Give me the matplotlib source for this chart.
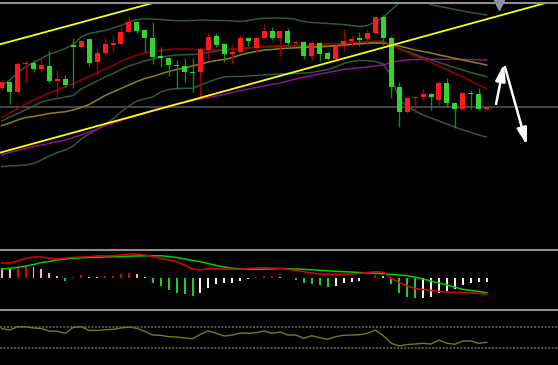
"""
Candlestick chart with Bollinger bands, moving averages, MACD and RSI panels
(dark trading-terminal style).  Saves out.png (558x365).
"""

import matplotlib
matplotlib.use('Agg')
import matplotlib.pyplot as plt
import numpy as np
from matplotlib.lines import Line2D

# ---------------------------------------------------------------------------
# Data (one entry per bar)
# ---------------------------------------------------------------------------
OPEN = [21.20, 21.83, 20.83, 23.60, 23.73, 23.07, 23.43, 21.93, 22.07, 25.50,
        25.33, 26.07, 23.83, 24.67, 25.53, 25.57, 26.80, 27.83, 27.00, 26.17,
        24.37, 24.23, 23.50, 23.40, 22.83, 22.77, 25.00, 26.40, 25.57, 24.57,
        24.83, 26.17, 25.23, 26.17, 26.93, 26.17, 26.93, 25.67, 25.83, 24.40,
        25.67, 24.67, 24.07, 25.40, 25.90, 26.17, 26.07, 26.67, 28.27, 26.17,
        21.27, 18.83, 20.17, 20.33, 20.60, 20.00, 21.67, 19.67, 19.10, 20.73,
        20.60, 19.10]
HIGH = [22.00, 21.93, 23.83, 24.00, 24.00, 24.27, 24.93, 23.00, 22.50, 26.20,
        26.00, 26.15, 25.20, 26.33, 26.40, 27.50, 28.30, 27.90, 27.07, 27.83,
        25.27, 24.33, 24.00, 24.17, 24.17, 25.33, 26.73, 26.67, 25.67, 25.40,
        26.50, 26.25, 26.40, 27.67, 27.27, 27.00, 27.17, 25.93, 25.93, 25.93,
        25.83, 24.93, 25.60, 27.07, 26.50, 26.83, 27.07, 28.33, 28.50, 26.40,
        21.83, 20.30, 20.40, 21.07, 20.73, 21.93, 22.23, 19.83, 20.80, 21.00,
        21.17, 19.40]
LOW = [21.00, 19.60, 20.70, 21.85, 22.83, 22.83, 21.73, 20.07, 21.27, 21.20,
       25.25, 23.40, 22.40, 24.60, 24.77, 25.50, 26.70, 26.60, 24.83, 23.60,
       23.33, 22.40, 21.10, 21.83, 20.83, 20.27, 24.07, 25.27, 23.83, 23.60,
       24.80, 25.40, 24.83, 26.07, 26.00, 24.40, 25.50, 25.57, 24.07, 24.00,
       23.93, 24.00, 24.00, 24.93, 25.40, 25.40, 25.50, 26.60, 25.50, 20.17,
       17.35, 18.75, 18.67, 20.00, 19.00, 19.50, 19.33, 17.17, 19.05, 19.10,
       19.00, 19.05]
CLOSE = [21.80, 20.83, 23.60, 23.73, 23.07, 23.50, 21.93, 22.07, 21.50, 25.33,
         25.93, 23.73, 24.73, 25.60, 25.67, 26.83, 27.83, 26.93, 26.17, 24.33,
         24.23, 23.50, 23.40, 22.77, 22.70, 25.07, 26.33, 25.50, 24.57, 24.83,
         26.17, 25.90, 26.17, 26.93, 26.17, 26.93, 25.67, 25.83, 24.40, 25.73,
         24.60, 24.07, 25.40, 25.90, 26.10, 26.03, 26.73, 28.27, 26.17, 21.27,
         18.83, 20.17, 20.33, 20.60, 20.27, 21.67, 19.67, 19.10, 20.73, 20.60,
         19.10, 19.33]

MA_SHORT = [18.25, 18.70, 19.15, 19.60, 20.00, 20.35, 20.70, 21.00, 21.30, 21.60,
            22.00, 22.35, 22.70, 23.10, 23.45, 23.85, 24.20, 24.50, 24.70, 24.85,
            24.95, 25.05, 25.10, 25.10, 25.07, 25.05, 25.02, 25.00, 25.02, 25.07,
            25.15, 25.20, 25.25, 25.30, 25.30, 25.33, 25.38, 25.43, 25.48, 25.50,
            25.55, 25.60, 25.63, 25.67, 25.73, 25.80, 25.85, 25.90, 25.85, 25.50,
            25.10, 24.75, 24.40, 24.10, 23.75, 23.40, 23.05, 22.65, 22.30, 21.90,
            21.50, 21.15]
MA_MID = [17.43, 17.70, 18.00, 18.25, 18.35, 18.50, 18.65, 18.75, 18.83, 19.00,
          19.25, 19.55, 20.00, 20.45, 20.80, 21.15, 21.50, 21.85, 22.15, 22.35,
          22.60, 22.85, 23.05, 23.20, 23.40, 23.60, 23.80, 23.95, 24.05, 24.25,
          24.50, 24.70, 24.85, 25.00, 25.05, 25.13, 25.18, 25.22, 25.25, 25.28,
          25.32, 25.37, 25.42, 25.47, 25.55, 25.62, 25.67, 25.70, 25.70, 25.55,
          25.40, 25.20, 25.00, 24.85, 24.70, 24.50, 24.35, 24.17, 24.00, 23.83,
          23.67, 23.50]
MA_LONG = [14.53, 14.75, 14.95, 15.15, 15.35, 15.50, 15.65, 15.85, 16.00, 16.25,
           16.50, 16.80, 17.10, 17.40, 17.70, 17.95, 18.20, 18.45, 18.70, 18.95,
           19.20, 19.40, 19.60, 19.75, 19.90, 20.10, 20.25, 20.40, 20.55, 20.75,
           20.95, 21.10, 21.25, 21.40, 21.55, 21.70, 21.90, 22.10, 22.30, 22.45,
           22.60, 22.75, 22.90, 23.05, 23.15, 23.20, 23.30, 23.40, 23.50, 23.75,
           23.90, 24.00, 24.05, 24.07, 24.08, 24.08, 24.07, 24.07, 24.05, 24.03,
           24.02, 24.00]
BB_UPPER = [21.40, 22.00, 22.70, 23.30, 23.75, 24.15, 24.60, 24.85, 25.15, 25.55,
            26.30, 26.65, 26.80, 26.95, 27.20, 27.45, 27.80, 28.05, 28.10, 28.10,
            28.05, 27.98, 27.93, 27.93, 27.95, 28.00, 27.97, 27.95, 27.95, 27.90,
            27.85, 27.95, 28.10, 28.17, 28.20, 28.20, 28.17, 28.05, 27.85, 27.75,
            27.70, 27.65, 27.60, 27.55, 27.45, 27.35, 27.45, 27.80, 28.30, 29.00,
            29.70, 30.20, 30.40, 29.85, 29.55, 29.37, 29.22, 29.05, 28.90, 28.75,
            28.63, 28.50]
BB_MIDDLE = [17.90, 18.30, 18.65, 19.00, 19.40, 19.80, 20.00, 20.15, 20.30, 20.45,
             21.10, 21.50, 21.90, 22.30, 22.65, 23.05, 23.40, 23.65, 23.90, 24.10,
             24.30, 24.40, 24.50, 24.53, 24.55, 24.60, 24.75, 24.90, 25.00, 25.10,
             25.15, 25.20, 25.30, 25.35, 25.38, 25.40, 25.40, 25.38, 25.35, 25.35,
             25.35, 25.37, 25.45, 25.55, 25.65, 25.65, 25.70, 25.80, 25.90, 25.50,
             25.15, 24.85, 24.55, 24.25, 24.00, 23.75, 23.50, 23.25, 23.00, 22.75,
             22.55, 22.33]
BB_LOWER = [13.35, 13.40, 13.45, 13.50, 13.65, 14.00, 14.40, 14.75, 15.00, 15.40,
            16.10, 16.60, 17.05, 17.60, 18.10, 18.80, 19.40, 19.90, 20.10, 20.30,
            20.80, 21.05, 21.15, 21.17, 21.17, 21.50, 21.80, 22.10, 22.30, 22.35,
            22.35, 22.40, 22.45, 22.50, 22.55, 22.60, 22.65, 22.67, 22.70, 22.75,
            22.90, 23.05, 23.30, 23.65, 23.85, 23.95, 23.95, 23.85, 23.60, 22.40,
            20.00, 19.40, 18.90, 18.50, 18.20, 17.90, 17.60, 17.30, 17.00, 16.75,
            16.50, 16.30]

DIF = [0.153, 0.153, 0.173, 0.200, 0.213, 0.213, 0.200, 0.193, 0.203, 0.210,
       0.213, 0.218, 0.223, 0.223, 0.226, 0.233, 0.243, 0.243, 0.233, 0.218,
       0.200, 0.183, 0.166, 0.133, 0.093, 0.083, 0.096, 0.098, 0.093, 0.090,
       0.090, 0.098, 0.103, 0.106, 0.103, 0.098, 0.090, 0.078, 0.066, 0.053,
       0.043, 0.040, 0.040, 0.040, 0.043, 0.048, 0.058, 0.066, 0.060, 0.000,
       -0.042, -0.077, -0.102, -0.112, -0.122, -0.130, -0.137, -0.140, -0.144,
       -0.147, -0.150, -0.160]
DEA = [0.093, 0.100, 0.110, 0.123, 0.138, 0.158, 0.168, 0.183, 0.193, 0.200,
       0.205, 0.208, 0.210, 0.213, 0.215, 0.218, 0.221, 0.223, 0.225, 0.226,
       0.225, 0.218, 0.208, 0.193, 0.178, 0.166, 0.148, 0.128, 0.113, 0.100,
       0.095, 0.090, 0.090, 0.090, 0.093, 0.098, 0.096, 0.093, 0.090, 0.085,
       0.080, 0.075, 0.070, 0.066, 0.063, 0.058, 0.053, 0.050, 0.045, 0.040,
       0.033, 0.026, 0.013, -0.007, -0.027, -0.047, -0.067, -0.090, -0.110,
       -0.122, -0.132, -0.144]
MACD_HIST = [0.100, 0.090, 0.110, 0.123, 0.110, 0.090, 0.057, 0.023, -0.023, 0.017,
             0.033, 0.017, 0.015, 0.023, 0.027, 0.040, 0.050, 0.040, 0.017, -0.043,
             -0.077, -0.117, -0.150, -0.157, -0.177, -0.143, -0.093, -0.060, -0.050,
             -0.043, -0.023, -0.007, 0.017, 0.018, 0.023, 0.017, 0.007, -0.017,
             -0.050, -0.057, -0.067, -0.083, -0.073, -0.050, -0.033, -0.023, 0.007,
             0.033, 0.023, -0.057, -0.143, -0.183, -0.200, -0.197, -0.190, -0.150,
             -0.125, -0.105, -0.072, -0.043, -0.042, -0.035]

RSI = [66.6, 63.7, 70.0, 70.0, 67.5, 66.6, 61.8, 61.2, 57.4, 68.9,
       70.0, 62.8, 63.1, 64.1, 65.0, 67.5, 69.4, 67.0, 60.9, 54.2,
       53.6, 51.0, 50.4, 48.5, 47.1, 55.5, 61.8, 57.4, 52.3, 54.2,
       58.0, 57.4, 58.6, 61.8, 57.4, 59.9, 54.2, 54.2, 47.9, 52.9,
       49.0, 46.0, 51.0, 53.6, 54.2, 54.8, 57.4, 63.7, 52.9, 38.4,
       33.2, 36.1, 37.0, 38.4, 37.0, 44.7, 38.4, 36.5, 42.8, 42.8,
       38.4, 40.3]
RSI_LEVELS = [70, 30]

# drawn objects, (bar index, price)
TREND_UPPER = [(-0.21, 25.57), (18.87, 29.67)]
TREND_LOWER = [(-0.21, 14.73), (68.55, 29.73)]
LAST_PRICE = 19.35
ARROW_UP = [(62.18, 19.6), (63.18, 23.6)]
ARROW_DOWN = [(63.30, 23.3), (66.04, 15.5)]
BAR_MARKER = (62.55, 29.5)

# ---------------------------------------------------------------------------
# Colours
# ---------------------------------------------------------------------------
BG        = 'black'
SEP_C     = '#8e8e8e'
UP_BODY   = '#ff1a1a'
UP_WICK   = '#a80000'
DN_BODY   = '#30d530'
DN_WICK   = '#148c14'
BAND_C    = '#2b5a3c'
MA_S_C    = '#960000'
MA_M_C    = '#8c8410'
MA_L_C    = '#8e128e'
TREND_C   = '#ffff00'
LAST_C    = '#4c505c'
HIST_UP   = '#e00000'
HIST_UPF  = '#f2b4b8'
HIST_DN   = '#22cc22'
HIST_DNF  = '#f4f4f4'
DIF_C     = '#e00000'
DEA_C     = '#00d000'
RSI_C     = '#7c7a08'
LEVEL_C   = '#6a6a6a'

# ---------------------------------------------------------------------------
# Canvas
# ---------------------------------------------------------------------------
W, H = 558, 365
fig = plt.figure(figsize=(W / 100, H / 100), dpi=100)
fig.patch.set_facecolor(BG)
XLIM = (-0.214, 69.97)


def panel(top, bottom):
    a = fig.add_axes([0, 1 - bottom / H, 1, (bottom - top) / H])
    a.set_xlim(*XLIM)
    a.set_axis_off()
    return a


ax = panel(3.5, 249)
ax.set_ylim(5.1, 29.65)
ax_macd = panel(251, 309)
ax_macd.set_ylim(-0.307, 0.273)
ax_rsi = panel(311, 365)
ax_rsi.set_ylim(-3, 100)

for ypx in (2.7, 250, 310):
    fig.add_artist(Line2D([0, 1], [1 - ypx / H] * 2, transform=fig.transFigure,
                          color=SEP_C, lw=1.5, zorder=10))

x = np.arange(len(CLOSE))
o, h, l, c = map(np.array, (OPEN, HIGH, LOW, CLOSE))
up = c >= o

# ---------------------------------------------------------------------------
# Main panel
# ---------------------------------------------------------------------------
ax.axhline(LAST_PRICE, color=LAST_C, lw=1.2, zorder=1)

for series in (BB_UPPER, BB_MIDDLE, BB_LOWER):
    ax.plot(x, series, color=BAND_C, lw=1.1, zorder=2)
ax.plot(x, MA_LONG, color=MA_L_C, lw=1.1, zorder=2)
ax.plot(x, MA_MID, color=MA_M_C, lw=1.1, zorder=2)
ax.plot(x, MA_SHORT, color=MA_S_C, lw=1.1, zorder=2)

ax.vlines(x[up], l[up], h[up], color=UP_WICK, lw=1.0, zorder=3)
ax.vlines(x[~up], l[~up], h[~up], color=DN_WICK, lw=1.0, zorder=3)
ax.bar(x, np.maximum(np.abs(c - o), 0.12), bottom=np.minimum(o, c), width=0.63,
       color=np.where(up, UP_BODY, DN_BODY), linewidth=0, zorder=4)

for pts in (TREND_UPPER, TREND_LOWER):
    (x0, y0), (x1, y1) = pts
    ax.plot([x0, x1], [y0, y1], color=TREND_C, lw=1.3, zorder=5)

for (x0, y0), (x1, y1) in (ARROW_UP, ARROW_DOWN):
    ax.annotate('', xy=(x1, y1), xytext=(x0, y0),
                arrowprops=dict(arrowstyle='-|>,head_length=1.0,head_width=0.3',
                                color='white', lw=1.8, mutation_scale=10,
                                shrinkA=0, shrinkB=0),
                zorder=6)

ax.plot(*BAR_MARKER, marker='v', ms=7, color='#8a94a8', clip_on=False, zorder=11)

# ---------------------------------------------------------------------------
# MACD panel
# ---------------------------------------------------------------------------
hist = np.array(MACD_HIST)
prev = np.concatenate([[0], hist[:-1]])
hist_cols = np.where(hist >= 0,
                     np.where(hist >= prev, HIST_UP, HIST_UPF),
                     np.where(hist <= prev, HIST_DN, HIST_DNF))
hist_cols[0] = HIST_UPF
ax_macd.bar(x, hist, width=0.25, color=hist_cols, linewidth=0, zorder=2)
ax_macd.plot(x, DEA, color=DEA_C, lw=1.1, zorder=3)
ax_macd.plot(x, DIF, color=DIF_C, lw=1.1, zorder=3)

# ---------------------------------------------------------------------------
# RSI panel
# ---------------------------------------------------------------------------
for lvl in RSI_LEVELS:
    ax_rsi.axhline(lvl, color=LEVEL_C, lw=1.1, ls=(0, (1.3, 1.0)), zorder=1)
ax_rsi.plot(x, RSI, color=RSI_C, lw=1.0, zorder=2)

fig.savefig('out.png', dpi=100, facecolor=BG)
plt.close(fig)
